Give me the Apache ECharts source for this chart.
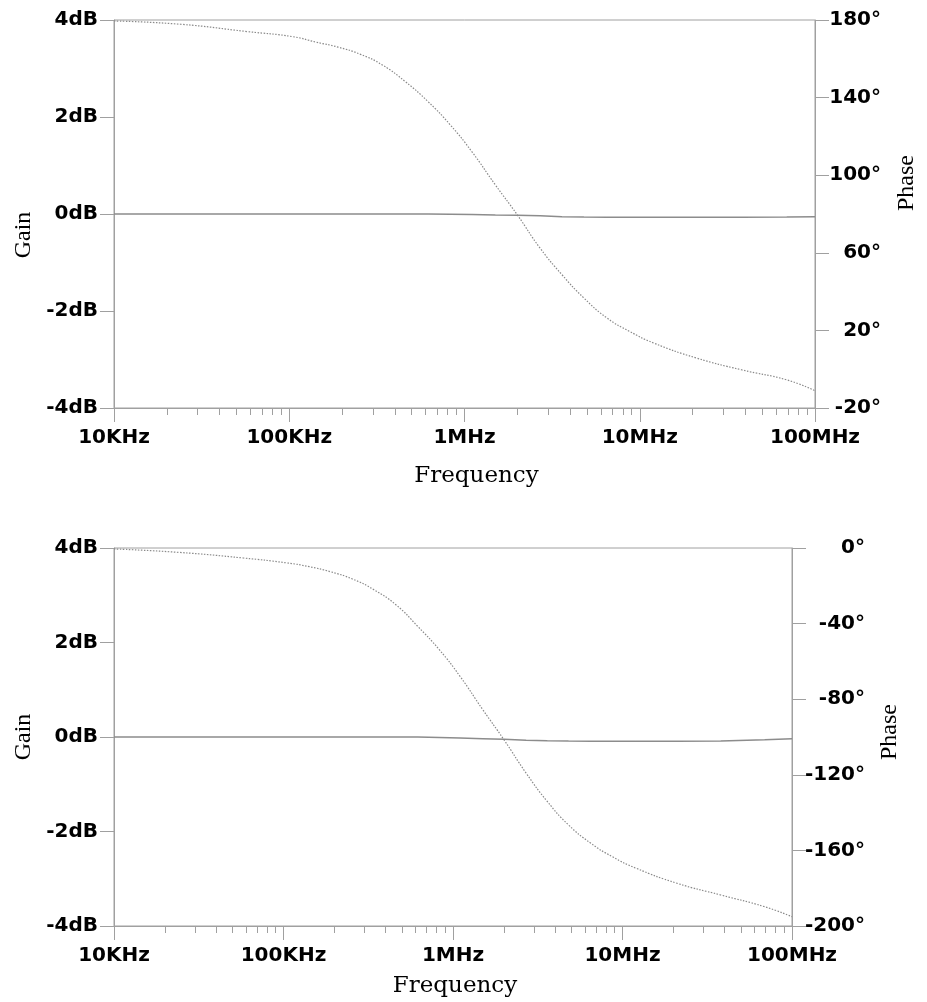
<!DOCTYPE html>
<html>
<head>
<meta charset="utf-8">
<style>
    html, body { margin: 0; padding: 0; background: #fff; }
    #chart { width: 927px; height: 1002px; }
</style>
<script src="https://cdn.jsdelivr.net/npm/echarts@6/dist/echarts.min.js"></script>
</head>
<body>
<div id="chart"></div>
<script>
    // frequency points (Hz)
    const freq = [1e4, 2.4e4, 5.8e4, 1.05e5, 1.42e5, 1.9e5, 2.55e5, 3.4e5, 4.6e5, 6.2e5, 8.3e5, 1.1e6, 1.5e6, 2e6, 2.7e6, 3.6e6, 4.8e6, 6.5e6, 8.7e6, 1.2e7, 2.1e7, 3.8e7, 6.9e7, 1e8];

    // upper plot
    const gainTop = [0, 0, 0, 0, 0, 0, 0, 0, 0, 0, -0.005, -0.01, -0.02, -0.025, -0.035, -0.055, -0.062, -0.065, -0.065, -0.065, -0.065, -0.065, -0.062, -0.055];
    const phaseTop = [179.5, 177.8, 174, 171.4, 168.6, 166, 162.3, 156.8, 148.2, 137.9, 125.9, 112.2, 95, 79.6, 62.4, 48.7, 36.7, 26.4, 19.6, 13.5, 5.8, -0.3, -5.5, -11.1];

    // lower plot
    const gainBottom = [0, 0, 0, 0, 0, 0, 0, 0, 0, 0, -0.01, -0.02, -0.035, -0.05, -0.068, -0.078, -0.085, -0.09, -0.091, -0.092, -0.092, -0.085, -0.06, -0.035];
    const phaseBottom = [-0.5, -2.3, -5.3, -7.9, -9.9, -12.6, -16.4, -22, -30, -41.5, -53.8, -67.9, -85.6, -101.5, -119.1, -134.1, -146.5, -156.2, -163.3, -169.4, -177.4, -183.6, -189.8, -195.1];

    // ticks
    const freqTicks = [1e4, 1e5, 1e6, 1e7, 1e8];
    const freqLabels = ['10KHz', '100KHz', '1MHz', '10MHz', '100MHz'];
    const phaseTicksTop = [-20, 20, 60, 100, 140, 180];
    const phaseTicksBottom = [-200, -160, -120, -80, -40, 0];

    let minorTicks = [];
    for (let d = 1e4; d < 1e8; d *= 10) {
        for (let k = 2; k <= 9; k++) minorTicks.push(k * d);
    }

    const axisColor = '#a0a0a0';
    const labelFont = {color: '#000', fontFamily: 'DejaVu Sans', fontWeight: 'bold', fontSize: 20};
    const nameFont = {color: '#000', fontFamily: 'Liberation Serif', fontSize: 24};

    function pairs(ys) {
        return freq.map((f, i) => [f, ys[i]]);
    }

    function xAxes(gridIndex, nameGap, namePad) {
        return [
            {
                type: 'log', logBase: 10, gridIndex: gridIndex, position: 'bottom',
                min: 1e4, max: 1e8,
                name: 'Frequency', nameLocation: 'middle', nameGap: nameGap,
                nameTextStyle: {color: '#000', fontFamily: 'DejaVu Serif', fontSize: 23, padding: namePad},
                axisLine: {show: true, onZero: false, lineStyle: {color: axisColor}},
                axisTick: {show: true, length: 14, customValues: freqTicks, lineStyle: {color: axisColor}},
                axisLabel: Object.assign({
                    customValues: freqTicks, margin: 20,
                    formatter: v => freqLabels[freqTicks.findIndex(t => Math.abs(t - v) / t < 1e-6)] || ''
                }, labelFont),
                splitLine: {show: false}
            },
            {
                type: 'log', logBase: 10, gridIndex: gridIndex, position: 'bottom',
                min: 1e4, max: 1e8,
                axisLine: {show: false, onZero: false},
                axisTick: {show: true, length: 7, customValues: minorTicks, lineStyle: {color: axisColor}},
                axisLabel: {show: false},
                splitLine: {show: false}
            }
        ];
    }

    function gainAxis(gridIndex, nameGap, namePad) {
        return {
            type: 'value', gridIndex: gridIndex, position: 'left',
            min: -4, max: 4, interval: 2,
            name: 'Gain', nameLocation: 'middle', nameGap: nameGap, nameRotate: 90,
            nameTextStyle: Object.assign({padding: namePad}, nameFont),
            axisLine: {show: true, onZero: false, lineStyle: {color: axisColor}},
            axisTick: {show: true, length: 14, lineStyle: {color: axisColor}},
            axisLabel: Object.assign({margin: 16, formatter: '{value}dB'}, labelFont),
            splitLine: {show: false}
        };
    }

    function phaseAxis(gridIndex, lo, hi, ticks, labelMargin, nameGap, namePad) {
        return {
            type: 'value', gridIndex: gridIndex, position: 'right',
            min: lo, max: hi,
            name: 'Phase', nameLocation: 'middle', nameGap: nameGap, nameRotate: 90,
            nameTextStyle: Object.assign({padding: namePad}, nameFont),
            axisLine: {show: true, onZero: false, lineStyle: {color: axisColor}},
            axisTick: {show: true, length: 14, customValues: ticks, lineStyle: {color: axisColor}},
            axisLabel: Object.assign({customValues: ticks, margin: labelMargin, align: 'right', formatter: '{value}°'}, labelFont),
            splitLine: {show: false}
        };
    }

    function gainSeries(xi, yi, data) {
        return {
            type: 'line', xAxisIndex: xi, yAxisIndex: yi, data: pairs(data),
            showSymbol: false, smooth: false, animation: false,
            lineStyle: {color: '#8c8c8c', width: 1.5}
        };
    }

    function phaseSeries(xi, yi, data) {
        return {
            type: 'line', xAxisIndex: xi, yAxisIndex: yi, data: pairs(data),
            showSymbol: false, smooth: 0.5, animation: false,
            lineStyle: {color: '#8a8a8a', width: 1.2, type: [1.5, 1.5]}
        };
    }

    const chart = echarts.init(document.getElementById('chart'));
    const option = {
        backgroundColor: '#fff',
        animation: false,
        grid: [
            {left: 114, top: 20, width: 704, height: 388, show: true, borderColor: axisColor, borderWidth: 1, backgroundColor: 'transparent'},
            {left: 114, top: 548, width: 678, height: 378, show: true, borderColor: axisColor, borderWidth: 1, backgroundColor: 'transparent'}
        ],
        xAxis: xAxes(0, 57, [0, 0, 0, 24]).concat(xAxes(1, 49, [0, 0, 0, 4])),
        yAxis: [
            gainAxis(0, 78, [0, 42, 0, 0]),
            phaseAxis(0, -20, 180, phaseTicksTop, 66, 80, [0, 0, 0, 62]),
            gainAxis(1, 78, [0, 0, 0, 0]),
            phaseAxis(1, -200, 0, phaseTicksBottom, 73, 86, [0, 0, 0, 10])
        ],
        series: [
            gainSeries(0, 0, gainTop),
            phaseSeries(0, 1, phaseTop),
            gainSeries(2, 2, gainBottom),
            phaseSeries(2, 3, phaseBottom)
        ]
    };
    chart.setOption(option);
</script>
</body>
</html>
